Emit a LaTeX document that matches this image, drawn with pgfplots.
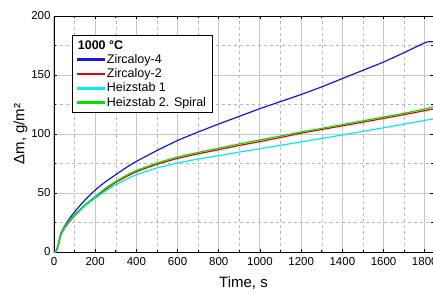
\documentclass[border=0pt]{standalone}
\usepackage{fontspec}
\setmainfont{Liberation Sans}
\usepackage{pgfplots}
\pgfplotsset{compat=1.18}
\definecolor{cblue}{RGB}{20,20,240}
\definecolor{cred}{RGB}{240,0,0}
\definecolor{cgreen}{RGB}{0,225,0}
\definecolor{ccyan}{RGB}{0,235,245}
\definecolor{gridmaj}{RGB}{200,200,200}
\definecolor{gridmin}{RGB}{185,185,185}
\begin{document}
\begin{tikzpicture}
\useasboundingbox (-54pt,-41pt) rectangle (379pt,252pt);
\begin{axis}[
  scale only axis, width=379pt, height=236pt,
  xmin=0, xmax=1840, ymin=0, ymax=200,
  xtick={0,200,...,1800}, ytick={0,50,...,200},
  minor x tick num=1, minor y tick num=1,
  tick align=inside, major tick length=3pt, minor tick length=2pt,
  grid=both,
  major grid style={gridmaj, line width=1pt},
  minor grid style={gridmin, dashed, line width=0.5pt},
  axis line style={black, line width=0.9pt},
  tick style={black, line width=0.6pt},
  /pgf/number format/assume math mode=true,
  /pgf/number format/set thousands separator={},
  tick label style={font=\fontsize{11.5}{13}\selectfont},
  xticklabel style={yshift=-2pt},
  xlabel={Time, s}, ylabel={Δm, g/m²},
  label style={font=\fontsize{15}{17}\selectfont},
  xlabel style={yshift=-4pt},
  ylabel style={yshift=-3pt},
  legend style={at={(18.3pt,217pt)}, anchor=north west, line width=0.8pt,
    font=\fontsize{12.5}{15}\selectfont, row sep=-0.3pt, inner xsep=4pt, inner ysep=3pt},
  legend cell align=left,
  every axis plot/.append style={line width=1.2pt, smooth, tension=0.4},
]
\addlegendimage{empty legend}
\addlegendentry{\hspace{-29pt}\textbf{1000 °C}}
\addplot[draw=cblue, legend image code/.code={\fill[cblue] (0pt,-0.8pt) rectangle (27pt,0.8pt);}] coordinates {(0,0)(8,0)(20,6)(32,15)(45,20)(70,27)(100,34)(150,44)(200,52.5)(250,59.5)(300,65.5)(350,71.5)(400,76.8)(500,86)(600,94.5)(700,101.7)(800,108.5)(900,115)(1000,121.5)(1100,127.5)(1200,133.5)(1300,140)(1400,147)(1500,154)(1600,161)(1700,169)(1790,176.5)(1812,178)(1840,178.2)};
\addlegendentry{Zircaloy-4}
\addplot[draw=cred, legend image code/.code={\fill[cred] (0pt,-0.7pt) rectangle (27pt,0.7pt);}] coordinates {(0,0)(8,0)(20,5)(32,13.5)(45,18.5)(70,24.5)(100,30.5)(150,39.5)(200,46.5)(250,53)(300,59)(350,63.8)(400,68)(500,74.3)(600,79.3)(700,83.2)(800,86.7)(900,90.3)(1000,93.6)(1100,97)(1200,100.7)(1300,103.8)(1400,106.9)(1500,110)(1600,113.2)(1700,116.4)(1800,119.8)(1840,121.2)};
\addlegendentry{Zircaloy-2}
\addplot[draw=ccyan, legend image code/.code={\fill[ccyan] (0pt,-0.8pt) rectangle (27pt,0.8pt);}] coordinates {(0,0)(8,0)(20,5.5)(32,14.5)(45,19)(70,25)(100,31)(150,39)(200,45.5)(250,51.5)(300,57)(350,61.5)(400,65.5)(500,71.2)(600,75.4)(700,78.8)(800,81.6)(900,84.7)(1000,87.5)(1100,90.4)(1200,93.3)(1300,96.2)(1400,99.2)(1500,102.3)(1600,105.3)(1700,108.4)(1800,111.5)(1840,112.7)};
\addlegendentry{Heizstab 1}
\addplot[draw=cgreen, legend image code/.code={\fill[cgreen] (0pt,-0.7pt) rectangle (27pt,0.7pt);}] coordinates {(0,0)(8,0)(20,5.5)(32,14.5)(45,19.5)(70,25.5)(100,31.6)(150,40)(200,47)(250,54)(300,59.8)(350,64.8)(400,69)(500,75.4)(600,80.5)(700,84.4)(800,88)(900,91.6)(1000,95)(1100,98.3)(1200,101.7)(1300,104.8)(1400,108)(1500,111.2)(1600,114.4)(1700,117.6)(1800,121.2)(1840,122.9)};
\addlegendentry{Heizstab 2. Spiral}
\end{axis}
\end{tikzpicture}
\end{document}
